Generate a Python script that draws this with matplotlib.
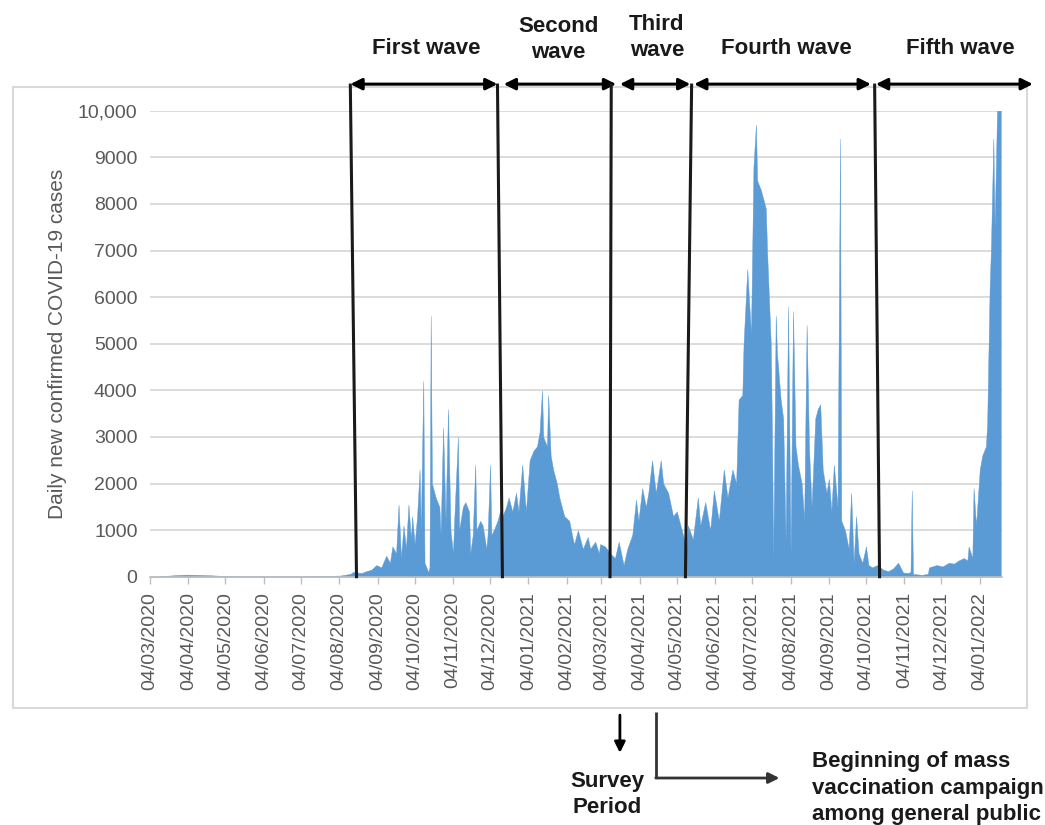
import matplotlib
matplotlib.use("Agg")
import matplotlib.pyplot as plt
import matplotlib.dates as mdates
from matplotlib.patches import Rectangle
import pandas as pd

# ---------------- data ----------------
dates = [
    "2020-03-04", "2020-03-10", "2020-03-18", "2020-03-25", "2020-04-02", "2020-04-12",
    "2020-04-22", "2020-05-05", "2020-05-20", "2020-06-10", "2020-07-01", "2020-07-20",
    "2020-08-05", "2020-08-13", "2020-08-15", "2020-08-22", "2020-08-26", "2020-08-30",
    "2020-09-03", "2020-09-07", "2020-09-11", "2020-09-14", "2020-09-16", "2020-09-19",
    "2020-09-21", "2020-09-23", "2020-09-25", "2020-09-27", "2020-09-29", "2020-10-01",
    "2020-10-02", "2020-10-04", "2020-10-06", "2020-10-08", "2020-10-09", "2020-10-11",
    "2020-10-12", "2020-10-15", "2020-10-16", "2020-10-17", "2020-10-18", "2020-10-21",
    "2020-10-24", "2020-10-25", "2020-10-27", "2020-10-29", "2020-10-31", "2020-11-02",
    "2020-11-04", "2020-11-05", "2020-11-08", "2020-11-09", "2020-11-12", "2020-11-14",
    "2020-11-17", "2020-11-18", "2020-11-20", "2020-11-22", "2020-11-23", "2020-11-26",
    "2020-11-28", "2020-12-01", "2020-12-02", "2020-12-04", "2020-12-05", "2020-12-07",
    "2020-12-10", "2020-12-12", "2020-12-14", "2020-12-17", "2020-12-19", "2020-12-22",
    "2020-12-25", "2020-12-27", "2020-12-30", "2021-01-02", "2021-01-05", "2021-01-08",
    "2021-01-11", "2021-01-13", "2021-01-15", "2021-01-16", "2021-01-19", "2021-01-20",
    "2021-01-22", "2021-01-24", "2021-01-27", "2021-01-29", "2021-02-02", "2021-02-06",
    "2021-02-09", "2021-02-10", "2021-02-13", "2021-02-17", "2021-02-21", "2021-02-23",
    "2021-02-27", "2021-03-02", "2021-03-03", "2021-03-07", "2021-03-11", "2021-03-15",
    "2021-03-18", "2021-03-22", "2021-03-25", "2021-03-29", "2021-04-01", "2021-04-03",
    "2021-04-06", "2021-04-09", "2021-04-11", "2021-04-14", "2021-04-17", "2021-04-21",
    "2021-04-23", "2021-04-27", "2021-05-01", "2021-05-04", "2021-05-08", "2021-05-12",
    "2021-05-13", "2021-05-17", "2021-05-21", "2021-05-23", "2021-05-27", "2021-05-31",
    "2021-06-03", "2021-06-07", "2021-06-11", "2021-06-14", "2021-06-18", "2021-06-21",
    "2021-06-23", "2021-06-26", "2021-06-27", "2021-06-30", "2021-07-03", "2021-07-05",
    "2021-07-07", "2021-07-08", "2021-07-11", "2021-07-13", "2021-07-15", "2021-07-16",
    "2021-07-19", "2021-07-20", "2021-07-21", "2021-07-23", "2021-07-24", "2021-07-27",
    "2021-07-29", "2021-07-31", "2021-08-02", "2021-08-04", "2021-08-06", "2021-08-08",
    "2021-08-10", "2021-08-13", "2021-08-15", "2021-08-17", "2021-08-19", "2021-08-21",
    "2021-08-24", "2021-08-26", "2021-08-28", "2021-08-30", "2021-09-02", "2021-09-04",
    "2021-09-06", "2021-09-08", "2021-09-11", "2021-09-13", "2021-09-14", "2021-09-17",
    "2021-09-20", "2021-09-22", "2021-09-24", "2021-09-26", "2021-09-28", "2021-10-01",
    "2021-10-04", "2021-10-06", "2021-10-09", "2021-10-13", "2021-10-18", "2021-10-22",
    "2021-10-26", "2021-10-30", "2021-11-03", "2021-11-07", "2021-11-09", "2021-11-10",
    "2021-11-11", "2021-11-18", "2021-11-23", "2021-11-24", "2021-11-30", "2021-12-05",
    "2021-12-10", "2021-12-14", "2021-12-18", "2021-12-22", "2021-12-25", "2021-12-26",
    "2021-12-29", "2021-12-30", "2022-01-01", "2022-01-04", "2022-01-06", "2022-01-09",
    "2022-01-10", "2022-01-12", "2022-01-13", "2022-01-15", "2022-01-16", "2022-01-18",
    "2022-01-21",
]
cases = [
    0, 5, 20, 35, 45, 40,
    30, 15, 10, 8, 10, 15,
    25, 60, 100, 80, 120, 150,
    250, 200, 450, 300, 650, 500,
    1550, 400, 1100, 600, 1550, 800,
    1300, 700, 1300, 2300, 1000, 4200,
    300, 100, 200, 5600, 2000, 1700,
    1500, 900, 3200, 1200, 3600, 1000,
    500, 1200, 3000, 1000, 1500, 1600,
    1400, 500, 900, 2400, 1000, 1200,
    1100, 600, 900, 2400, 900, 1000,
    1200, 1400, 1300, 1500, 1700, 1400,
    1800, 1400, 2400, 1400, 2500, 2700,
    2800, 3100, 4000, 3000, 2800, 3900,
    2600, 2300, 2000, 1700, 1300, 1200,
    800, 700, 1000, 600, 850, 600,
    750, 500, 700, 650, 500, 400,
    750, 250, 600, 900, 1650, 1200,
    1900, 1500, 1800, 2500, 1800, 2500,
    2000, 1800, 1300, 1400, 1000, 600,
    1100, 800, 1700, 1100, 1600, 1000,
    1850, 1200, 2300, 1700, 2300, 2000,
    3800, 3900, 5000, 6600, 5200, 8800,
    9700, 8500, 8300, 8100, 7900, 7000,
    5000, 3000, 400, 5600, 4800, 3800,
    3400, 800, 5800, 500, 5700, 2800,
    2400, 2000, 1200, 5400, 2700, 1500,
    3400, 3600, 3700, 2300, 1800, 2100,
    1400, 2400, 1500, 9400, 1200, 1000,
    600, 1800, 300, 1300, 500, 300,
    650, 250, 200, 250, 150, 120,
    180, 300, 90, 80, 100, 1850,
    60, 40, 60, 200, 250, 220,
    300, 280, 350, 400, 350, 650,
    400, 1900, 1100, 2300, 2600, 2800,
    3300, 6200, 7000, 9400, 7500, 10000,
    10000,
]

tick_dates = [
    "2020-03-04", "2020-04-04", "2020-05-04", "2020-06-04", "2020-07-04", "2020-08-04",
    "2020-09-04", "2020-10-04", "2020-11-04", "2020-12-04", "2021-01-04", "2021-02-04",
    "2021-03-04", "2021-04-04", "2021-05-04", "2021-06-04", "2021-07-04", "2021-08-04",
    "2021-09-04", "2021-10-04", "2021-11-04", "2021-12-04", "2022-01-04",
]
tick_labels = [pd.Timestamp(d).strftime("%d/%m/%Y") for d in tick_dates]
y_ticks = [0, 1000, 2000, 3000, 4000, 5000, 6000, 7000, 8000, 9000, 10000]
y_labels = ["0", "1000", "2000", "3000", "4000", "5000", "6000", "7000", "8000", "9000", "10,000"]

# wave boundaries: (date at the axis, date at the top)
boundary_bottom = ["2020-08-18", "2020-12-14", "2021-03-11", "2021-05-11", "2021-10-15"]
boundary_top = ["2020-08-13", "2020-12-10", "2021-03-12", "2021-05-16", "2021-10-11"]
# wave arrows (start, end)
wave_start = ["2020-08-13", "2020-12-15", "2021-03-19", "2021-05-18", "2021-10-12"]
wave_end = ["2020-12-10", "2021-03-16", "2021-05-15", "2021-10-08", "2022-02-16"]
wave_names = ["First wave", "Second\nwave", "Third\nwave", "Fourth wave", "Fifth wave"]
wave_label_x = ["2020-10-13", "2021-01-28", "2021-04-18", "2021-08-01", "2021-12-19"]
wave_label_y = [1.134, 1.152, 1.157, 1.134, 1.134]

survey_date = "2021-03-19"
vaccination_date = "2021-04-17"

# ---------------- figure ----------------
plt.rcParams["font.family"] = ["Liberation Sans", "DejaVu Sans"]
fig = plt.figure(figsize=(10.45, 8.25), dpi=100)
ax = fig.add_axes([150 / 1045, 1 - 576.7 / 825, (1002 - 150) / 1045, 466 / 825])

x = pd.to_datetime(dates)
ax.fill_between(x, cases, 0, color="#5B9BD5", lw=0.3, edgecolor="#5B9BD5")

ax.set_ylim(0, 10000)
ax.set_xlim(pd.Timestamp("2020-03-04"), pd.Timestamp("2022-01-22"))
ax.set_yticks(y_ticks)
ax.set_yticklabels(y_labels)
ax.set_xticks(pd.to_datetime(tick_dates))
ax.set_xticklabels(tick_labels, rotation=90)
ax.tick_params(axis="y", length=0, labelsize=14, labelcolor="#595959", pad=9)
ax.tick_params(axis="x", length=5, width=1, color="#BFBFBF", labelsize=14,
               labelcolor="#595959", pad=6, direction="out")
ax.grid(axis="y", color="#D9D9D9", lw=1.3)
ax.set_axisbelow(True)
for s in ["left", "right", "top"]:
    ax.spines[s].set_visible(False)
ax.spines["bottom"].set_color("#BFBFBF")
ax.spines["bottom"].set_linewidth(1.2)
ax.set_ylabel("Daily new confirmed COVID-19 cases", fontsize=15, color="#595959")
ax.yaxis.set_label_coords(-0.097, 0.5)

trans = ax.get_xaxis_transform()
num = lambda d: mdates.date2num(pd.Timestamp(d))

# wave boundary lines
for b, t in zip(boundary_bottom, boundary_top):
    ax.plot([num(b), num(t)], [0.0, 1.055], transform=trans, color="#1a1a1a",
            lw=2.2, clip_on=False, zorder=5)

# wave arrows
for s, e in zip(wave_start, wave_end):
    ax.annotate("", xy=(num(e), 1.057), xytext=(num(s), 1.057), xycoords=trans,
                textcoords=trans, annotation_clip=False,
                arrowprops=dict(arrowstyle="<|-|>", color="black", lw=2.2,
                                mutation_scale=17, shrinkA=0, shrinkB=0))

for name, lx, ly in zip(wave_names, wave_label_x, wave_label_y):
    ax.text(num(lx), ly, name, transform=trans, ha="center", va="center",
            fontsize=16, fontweight="bold", color="#1a1a1a", linespacing=1.3)

# survey period arrow
ax.annotate("", xy=(num(survey_date), -0.378), xytext=(num(survey_date), -0.297),
            xycoords=trans, textcoords=trans, annotation_clip=False,
            arrowprops=dict(arrowstyle="-|>", color="black", lw=2, mutation_scale=16,
                            shrinkA=0, shrinkB=0))
ax.text(num("2021-03-09"), -0.418, "Survey\nPeriod", transform=trans, ha="center", va="top",
        fontsize=16, fontweight="bold", color="#1a1a1a", linespacing=1.3)

# vaccination campaign arrow
ax.plot([num(vaccination_date), num(vaccination_date)], [-0.29, -0.432], transform=trans,
        color="#333333", lw=2, clip_on=False, solid_capstyle="butt")
ax.annotate("", xy=(num("2021-07-26"), -0.432), xytext=(num(vaccination_date), -0.432),
            xycoords=trans, textcoords=trans, annotation_clip=False,
            arrowprops=dict(arrowstyle="-|>", color="#333333", lw=2, mutation_scale=16,
                            shrinkA=0, shrinkB=0))
ax.text(num("2021-08-21"), -0.375, "Beginning of mass\nvaccination campaign\namong general public",
        transform=trans, ha="left", va="top", fontsize=16, fontweight="bold",
        color="#1a1a1a", linespacing=1.32)

# chart border
fig.add_artist(Rectangle((13 / 1045, 1 - 708 / 825), (1027 - 13) / 1045, (708 - 87) / 825,
                         transform=fig.transFigure, fill=False, edgecolor="#D9D9D9",
                         lw=1.5, zorder=0))

fig.savefig("out.png", dpi=100)
